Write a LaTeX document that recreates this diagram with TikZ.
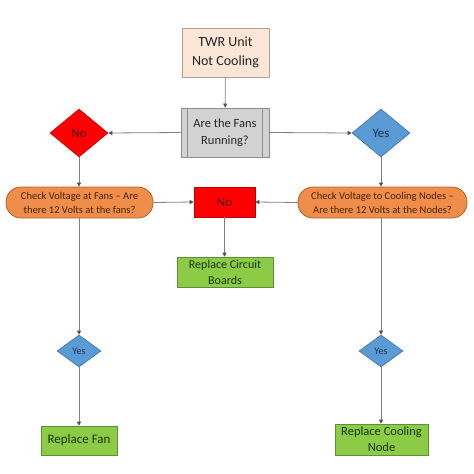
\documentclass[tikz,border=0pt]{standalone}
\usepackage{fontspec}
\setmainfont{Carlito}
\usetikzlibrary{shapes.geometric,arrows.meta}
\definecolor{peach}{HTML}{FBE5D6}
\definecolor{peachb}{HTML}{B0A29A}
\definecolor{procf}{HTML}{D2D2D2}
\definecolor{procb}{HTML}{8C8C8C}
\definecolor{redf}{HTML}{FF0000}
\definecolor{redb}{HTML}{C00000}
\definecolor{bluef}{HTML}{5B9BD5}
\definecolor{blueb}{HTML}{41719C}
\definecolor{orangef}{HTML}{EF8E4A}
\definecolor{orangeb}{HTML}{B0612A}
\definecolor{greenf}{HTML}{8CCB45}
\definecolor{greenb}{HTML}{5E8E36}
\definecolor{linec}{HTML}{808080}
\definecolor{tdark}{HTML}{262626}
\definecolor{tnavy}{HTML}{1F3050}
\definecolor{tbrown}{HTML}{4A2200}
\definecolor{tgreen}{HTML}{1B3508}
\definecolor{tred}{HTML}{5A0000}
\begin{document}
\begin{tikzpicture}[x=1pt,y=-1pt,
  every node/.style={inner sep=0pt,align=center},
  startbox/.style={draw=peachb,fill=peach,line width=0.8pt,minimum width=87pt,minimum height=49pt,text=tdark,font=\fontsize{14}{19}\selectfont},
  procbox/.style={draw=procb,fill=procf,line width=0.8pt,minimum width=88pt,minimum height=49pt,text=tdark,font=\fontsize{12.5}{17}\selectfont},
  reddia/.style={diamond,draw=redb,fill=redf,line width=0.6pt,minimum width=58pt,minimum height=48pt,text=tred,font=\fontsize{13}{15}\selectfont},
  bluedia/.style={diamond,draw=blueb,fill=bluef,line width=0.6pt,minimum width=58pt,minimum height=48pt,text=tnavy,font=\fontsize{13}{15}\selectfont},
  smalldia/.style={diamond,draw=blueb,fill=bluef,line width=0.6pt,minimum width=44pt,minimum height=32pt,text=tnavy,font=\fontsize{10}{12}\selectfont},
  ovalbox/.style={draw=orangeb,fill=orangef,line width=0.8pt,rounded corners=15pt,minimum height=31pt,text=tbrown,font=\fontsize{10.5}{14}\selectfont},
  redbox/.style={draw=redb,fill=redf,line width=0.6pt,minimum width=61pt,minimum height=30pt,text=tred,font=\fontsize{13}{15}\selectfont},
  greenbox/.style={draw=greenb,fill=greenf,line width=0.6pt,text=tgreen},
  conn/.style={draw=linec,line width=0.8pt,-{Triangle[length=4pt,width=4pt,color=tdark!80]}}
]
\useasboundingbox[fill=white] (0,0) rectangle (474,474);

\node[startbox] (twr) at (225.5,52.5) {TWR Unit\\Not Cooling};
\node[procbox] (proc) at (225,132.5) {Are the Fans\\Running?};
\draw[procb,line width=0.8pt] ([xshift=7pt]proc.north west) -- ([xshift=7pt]proc.south west);
\draw[procb,line width=0.8pt] ([xshift=-7pt]proc.north east) -- ([xshift=-7pt]proc.south east);

\node[reddia] (noL) at (79,133) {No};
\node[bluedia] (yesR) at (381,133) {Yes};

\node[ovalbox,minimum width=147pt] (ovL) at (79.5,202.5) {Check Voltage at Fans – Are\\there 12 Volts at the fans?};
\node[ovalbox,minimum width=169pt] (ovR) at (382.5,202.5) {Check Voltage to Cooling Nodes –\\Are there 12 Volts at the Nodes?};

\node[redbox] (noM) at (224.5,202) {No};
\node[greenbox,minimum width=96pt,minimum height=30pt,font=\fontsize{12}{16}\selectfont] (rcb) at (225,272) {Replace Circuit\\Boards};

\node[smalldia] (yesL2) at (79,351) {Yes};
\node[smalldia] (yesR2) at (381,351) {Yes};

\node[greenbox,minimum width=76pt,minimum height=29pt,font=\fontsize{13}{15}\selectfont] (fan) at (79,440.5) {Replace Fan};
\node[greenbox,minimum width=93pt,minimum height=31pt,font=\fontsize{12.5}{16}\selectfont] (cnode) at (381.5,439.5) {Replace Cooling\\Node};

\draw[conn] (twr) -- (proc);
\draw[conn] (proc.west) -- (noL.east);
\draw[conn] (proc.east) -- (yesR.west);
\draw[conn] (noL.south) -- (noL.south |- ovL.north);
\draw[conn] (yesR.south) -- (yesR.south |- ovR.north);
\draw[conn] (ovL.east) -- (noM.west);
\draw[conn] (ovR.west) -- (noM.east);
\draw[conn] (noM.south) -- (noM.south |- rcb.north);
\draw[conn] (yesL2.north |- ovL.south) -- (yesL2.north);
\draw[conn] (yesR2.north |- ovR.south) -- (yesR2.north);
\draw[conn] (yesL2.south) -- (yesL2.south |- fan.north);
\draw[conn] (yesR2.south) -- (yesR2.south |- cnode.north);
\end{tikzpicture}
\end{document}
